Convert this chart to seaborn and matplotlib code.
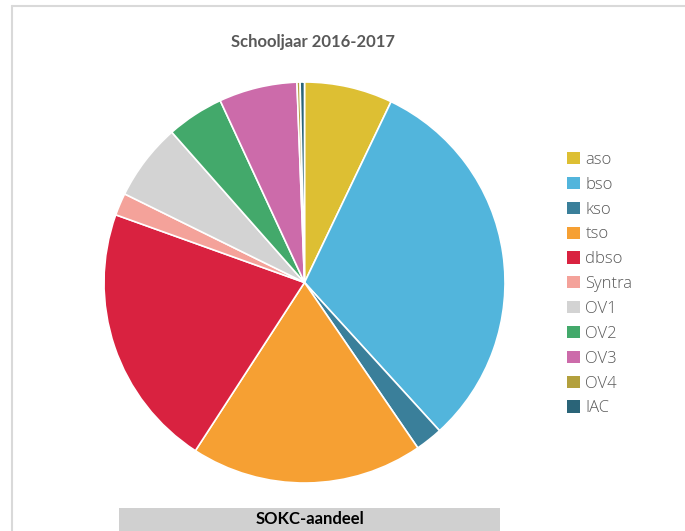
import matplotlib
matplotlib.use("Agg")
import matplotlib.pyplot as plt
import matplotlib.patches as mpatches
from matplotlib.lines import Line2D
import seaborn as sns

# Data (share per onderwijsvorm, %)
labels = ['aso', 'bso', 'kso', 'tso', 'dbso', 'Syntra', 'OV1', 'OV2', 'OV3', 'OV4', 'IAC']
shares = [7.1, 31.1, 2.2, 18.7, 21.3, 1.8, 6.2, 4.6, 6.3, 0.25, 0.35]
colors = ['#DDBF33', '#52B5DC', '#3A7F9A', '#F6A033', '#D92240', '#F4A29A',
          '#D3D3D3', '#43A96B', '#CC6BAA', '#B3A03D', '#2A6478']

sns.set_theme(style="white")
plt.rcParams['font.family'] = ['Open Sans', 'DejaVu Sans']

fig = plt.figure(figsize=(6.85, 5.31), dpi=100)

# Pie chart
ax = fig.add_axes([104 / 685, 1 - 483 / 531, 401 / 685, 401 / 531])
ax.pie(shares, colors=sns.color_palette(colors), startangle=90, counterclock=False,
       wedgeprops=dict(edgecolor='white', linewidth=1.2))
ax.set_xlim(-1, 1)
ax.set_ylim(-1, 1)
ax.set_aspect('equal')
ax.axis('off')

# Title
fig.text(313 / 685, 1 - 42 / 531, 'Schooljaar 2016-2017', ha='center', va='center',
         fontsize=12, fontweight='bold', color='#595959', family=['Lato', 'DejaVu Sans'])

# Legend
handles = [mpatches.Patch(facecolor=c, edgecolor='none') for c in colors]
fig.legend(handles, labels, loc='upper left', bbox_to_anchor=(552 / 685, 1 - 137 / 531),
           frameon=False, handlelength=0.75, handleheight=0.75,
           handletextpad=0.35, labelspacing=0.53, labelcolor='#595959',
           prop={'family': 'Open Sans', 'size': 12, 'weight': 'light'})

# Outer frame (partly cropped)
fig.add_artist(Line2D([11.5 / 685, 11.5 / 685], [0, 1 - 6 / 531], transform=fig.transFigure,
                      color='#d9d9d9', linewidth=1.5))
fig.add_artist(Line2D([11.5 / 685, 1], [1 - 6 / 531, 1 - 6 / 531], transform=fig.transFigure,
                      color='#d9d9d9', linewidth=1.5))

# Bottom band
fig.add_artist(mpatches.Rectangle((119 / 685, 0), 381 / 685, 23 / 531,
                                  transform=fig.transFigure, facecolor='#d0d0d0',
                                  edgecolor='none'))
fig.text(310 / 685, 1 - 519 / 531, 'SOKC-aandeel', ha='center', va='center',
         fontsize=12, fontweight='bold', color='black', family=['Lato', 'DejaVu Sans'])

fig.savefig('out.png', dpi=100)
